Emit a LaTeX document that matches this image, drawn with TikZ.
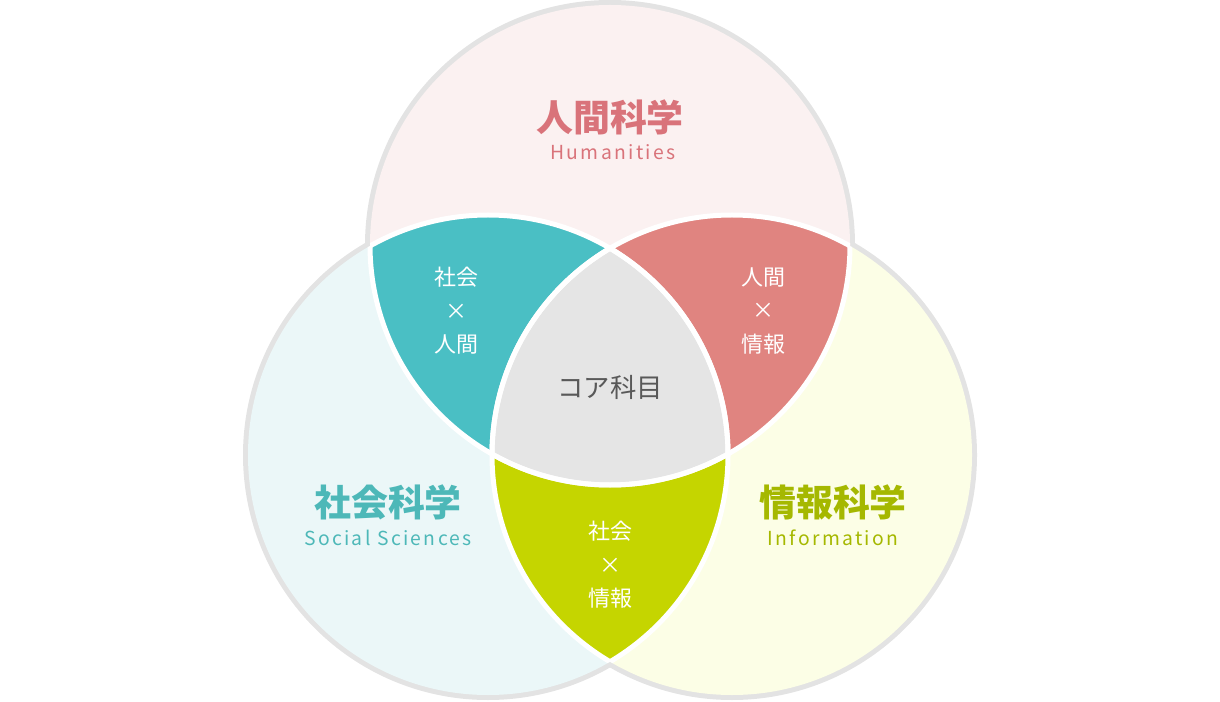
\documentclass[tikz,border=0pt]{standalone}
\usepackage{fontspec}
\newfontfamily\jp{Noto Sans CJK JP}
\usetikzlibrary{positioning}
\definecolor{humpale}{HTML}{FBF1F1}
\definecolor{socpale}{HTML}{EBF7F8}
\definecolor{infpale}{HTML}{FCFEE6}
\definecolor{humsoc}{HTML}{4ABFC4}
\definecolor{huminf}{HTML}{E08480}
\definecolor{socinf}{HTML}{C5D500}
\definecolor{core}{HTML}{E5E5E5}
\definecolor{rim}{HTML}{E3E3E3}
\definecolor{humtext}{HTML}{D9737A}
\definecolor{soctext}{HTML}{4DB8B8}
\definecolor{inftext}{HTML}{A5B800}
\tikzset{
    x=0.02cm, y=-0.02cm, % one unit is one pixel of the reference, y downwards
    title/.style={font=\jp\fontsize{21}{21}\selectfont\bfseries}, % big subject names
    subtitle/.style={font=\jp\fontsize{11}{11}\selectfont\addfontfeature{LetterSpace=12}}, % english names
    cross/.style={font=\jp\fontsize{12.5}{19}\selectfont, text=white, align=center}, % overlap labels
}
\def\rad{240}
\begin{document}
\begin{tikzpicture}
    \useasboundingbox (0,0) rectangle (1220,702);
    \coordinate (hum) at (610,245);
    \coordinate (soc) at (488,455);
    \coordinate (inf) at (732,455);
    % outer rim
    \foreach \c in {hum,soc,inf}
        \draw[rim, line width=0.2cm] (\c) circle (\rad);
    % pale circles
    \fill[humpale] (hum) circle (\rad);
    \fill[socpale] (soc) circle (\rad);
    \fill[infpale] (inf) circle (\rad);
    % overlaps
    \begin{scope}\clip (hum) circle (\rad); \fill[humsoc] (soc) circle (\rad); \fill[huminf] (inf) circle (\rad); \end{scope}
    \begin{scope}\clip (soc) circle (\rad); \fill[socinf] (inf) circle (\rad); \end{scope}
    \begin{scope}\clip (hum) circle (\rad); \clip (soc) circle (\rad); \fill[core] (inf) circle (\rad); \end{scope}
    % white dividers
    \foreach \a/\b in {hum/soc,hum/inf,soc/hum,soc/inf,inf/hum,inf/soc}{
        \begin{scope}\clip (\b) circle (\rad); \draw[white, line width=0.1cm] (\a) circle (\rad); \end{scope}
    }
    % labels
    \node[title, text=humtext] (humname) at (610,117) {人間科学};
    \node[subtitle, text=humtext] (humeng) at (613,152) {Humanities};
    \node[title, text=soctext] (socname) at (388,502) {社会科学};
    \node[subtitle, text=soctext] (soceng) at (388,538) {Social Sciences};
    \node[title, text=inftext] (infname) at (833,502) {情報科学};
    \node[subtitle, text=inftext] (infeng) at (833,538) {Information};
    \node[font=\jp\fontsize{15}{15}\selectfont, text=black!65] (corename) at (610,387) {コア科目};
    \node[cross] (hs) at (456,311) {社会\\×\\人間};
    \node[cross] (hi) at (763,311) {人間\\×\\情報};
    \node[cross] (si) at (610,565) {社会\\×\\情報};
\end{tikzpicture}
\end{document}
